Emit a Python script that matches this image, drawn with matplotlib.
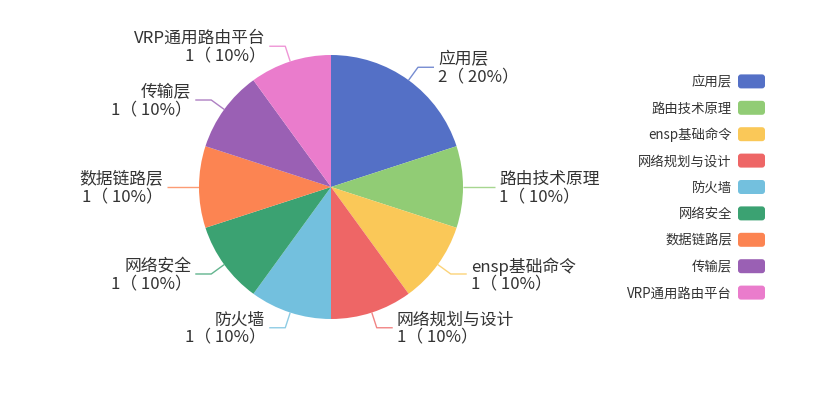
import matplotlib
matplotlib.use("Agg")
import matplotlib.pyplot as plt
import numpy as np
from matplotlib.patches import FancyBboxPatch

plt.rcParams['font.family'] = ['Noto Sans CJK SC', 'DejaVu Sans']

# data
names = ['应用层', '路由技术原理', 'ensp基础命令', '网络规划与设计', '防火墙',
         '网络安全', '数据链路层', '传输层', 'VRP通用路由平台']
values = [2, 1, 1, 1, 1, 1, 1, 1, 1]
colors = ['#5470c6', '#91cc75', '#fac858', '#ee6666', '#73c0de',
          '#3ba272', '#fc8452', '#9a60b4', '#ea7ccc']

W, H = 821, 402
cx, cy, R = 331, 188, 132

fig = plt.figure(figsize=(W / 100, H / 100), dpi=100)
ax = fig.add_axes([0, 0, 1, 1])

# y axis points down (pixel coords), so counterclock=True looks clockwise
wedges, _ = ax.pie(values, colors=colors, startangle=270, counterclock=True,
                   radius=R, center=(cx, cy), wedgeprops=dict(linewidth=0))

ax.set_xlim(0, W)
ax.set_ylim(H, 0)
ax.set_aspect('equal')
ax.axis('off')

total = sum(values)
len1, len2, gap = 16, 16, 4
for w, name, v, c in zip(wedges, names, values, colors):
    mid = np.deg2rad((w.theta1 + w.theta2) / 2)
    dx, dy = np.cos(mid), np.sin(mid)
    x0, y0 = cx + R * dx, cy + R * dy
    x1, y1 = cx + (R + len1) * dx, cy + (R + len1) * dy
    side = 1 if dx >= -1e-9 else -1
    x2 = x1 + side * len2
    ax.plot([x0, x1, x2], [y0, y1, y1], color=c, lw=1, alpha=0.8,
            solid_capstyle='butt')
    label = f"{name}\n{v}（ {v / total * 100:.0f}%）"
    ax.text(x2 + side * gap, y1, label, ha='left' if side > 0 else 'right',
            va='center', fontsize=12.1, color='#333333', linespacing=1.0,
            multialignment='left' if side > 0 else 'right')

# legend on the right
step = 26.4
n = len(names)
for i, (name, c) in enumerate(zip(names, colors)):
    y = cy - (n - 1) / 2 * step + i * step
    ax.add_patch(FancyBboxPatch((738, y - 7), 27, 14,
                                boxstyle='round,pad=0,rounding_size=3',
                                facecolor=c, edgecolor='none'))
    ax.text(732, y, name, ha='right', va='center', fontsize=9.6,
            color='#333333')

fig.savefig('out.png', dpi=100)
